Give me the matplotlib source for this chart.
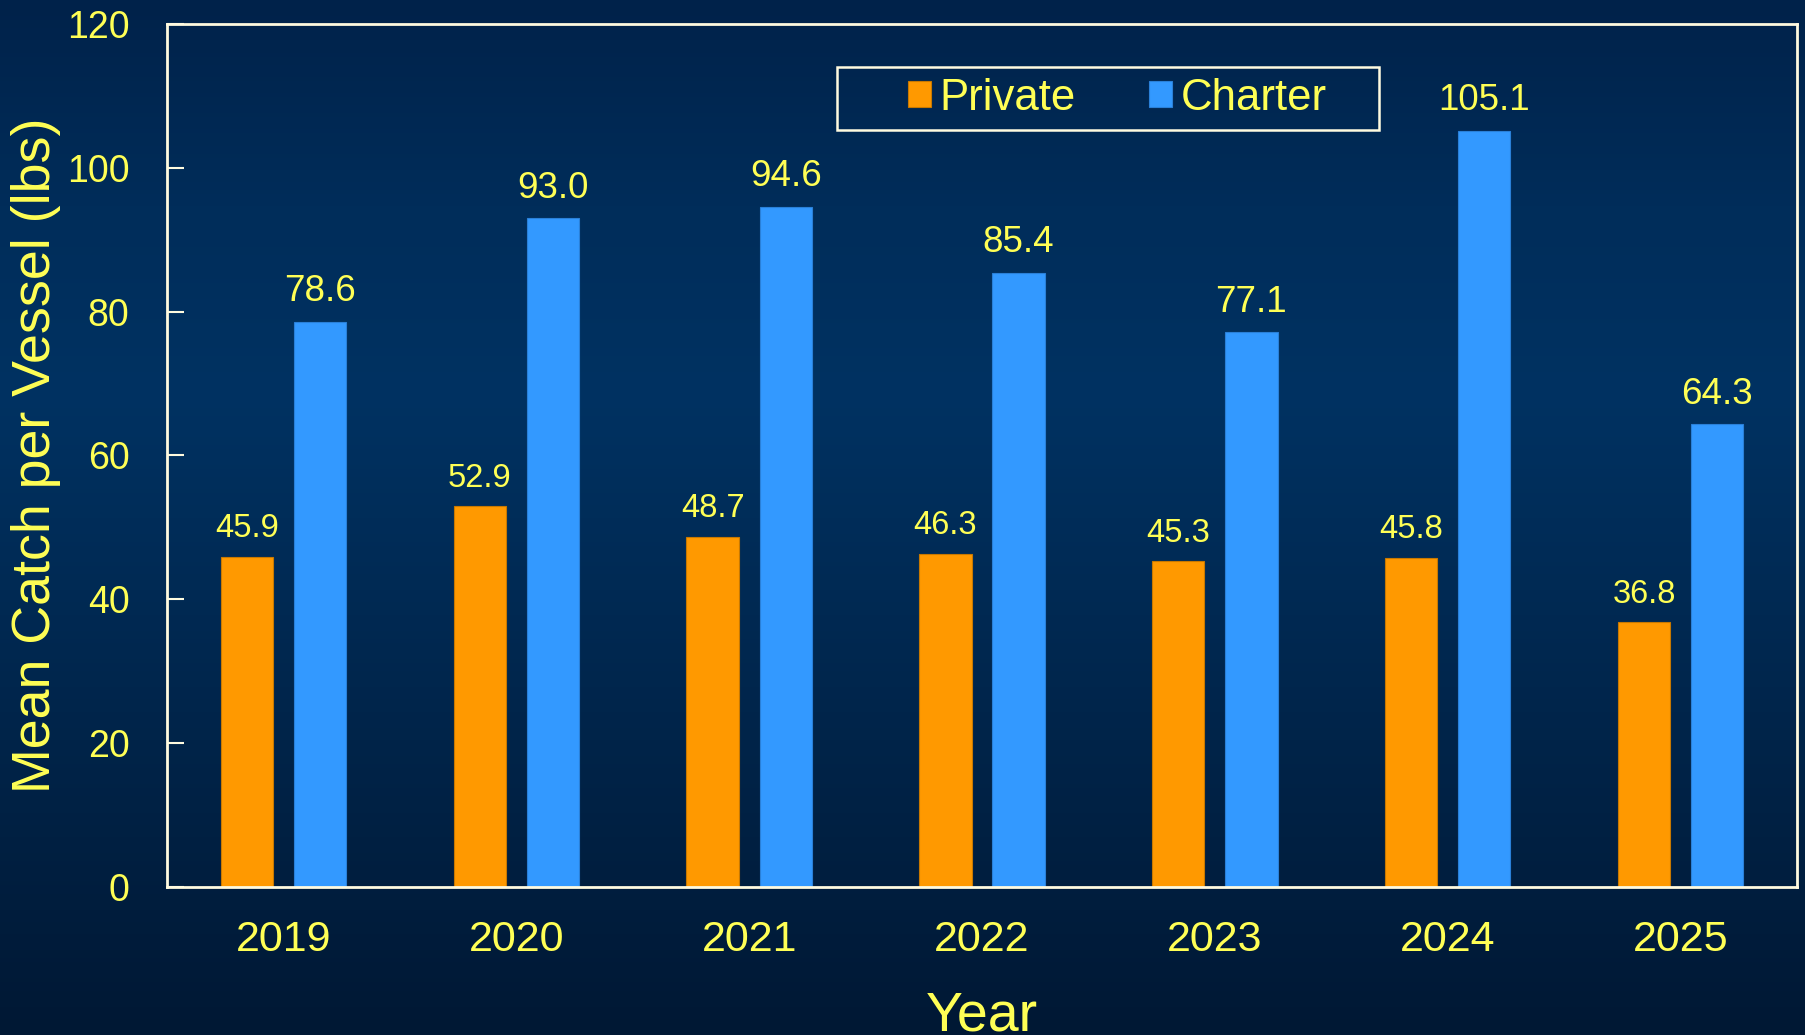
import numpy as np
import matplotlib.pyplot as plt
from matplotlib.colors import LinearSegmentedColormap
from matplotlib.patches import Rectangle

plt.rcParams['font.family'] = ['Liberation Sans', 'DejaVu Sans']

# Data
years = ["2019", "2020", "2021", "2022", "2023", "2024", "2025"]
private = [45.9, 52.9, 48.7, 46.3, 45.3, 45.8, 36.8]
charter = [78.6, 93.0, 94.6, 85.4, 77.1, 105.1, 64.3]

TXT = "#ffff55"
EDGE = "#fffbe0"
ORANGE = "#ff9900"
BLUE = "#3399ff"

fig = plt.figure(figsize=(18.06, 10.35), dpi=100)

# background gradient (vertical)
bg = fig.add_axes([0, 0, 1, 1], zorder=-10)
bg_cmap = LinearSegmentedColormap.from_list(
    "bg", [(0, "#001834"), (0.62, "#003262"), (0.8, "#002d5a"), (1, "#00224a")])
bg.imshow(np.linspace(0, 1, 256).reshape(-1, 1), aspect="auto", cmap=bg_cmap,
          origin="lower", extent=[0, 1, 0, 1])
bg.axis("off")

ax = fig.add_axes([0.0925, 0.143, 0.9025, 0.834])
ax.patch.set_alpha(0)

x = np.arange(len(years))
width = 0.225
off = 0.157
ax.bar(x - off, private, width, color=ORANGE, edgecolor="#c87800", linewidth=0.8, label="Private")
ax.bar(x + off, charter, width, color=BLUE, edgecolor="#2a80d8", linewidth=0.8, label="Charter")

for xi, v in zip(x, private):
    ax.annotate(f"{v:.1f}", (xi - off, v), xytext=(0, 9), textcoords="offset points",
                ha="center", va="bottom", color=TXT, fontsize=23.5)
for xi, v in zip(x, charter):
    ax.annotate(f"{v:.1f}", (xi + off, v), xytext=(0, 9), textcoords="offset points",
                ha="center", va="bottom", color=TXT, fontsize=26.5)

ax.set_xlim(-0.5, len(years) - 0.5)
ax.set_ylim(0, 120)
ax.set_yticks(range(0, 121, 20))
ax.set_xticks(x)
ax.set_xticklabels(years)
ax.tick_params(axis="y", direction="in", length=12, width=1.5, color=EDGE,
               labelcolor=TXT, labelsize=27, pad=27)
ax.tick_params(axis="x", length=0, labelcolor=TXT, labelsize=31, pad=24)

for s in ax.spines.values():
    s.set_color(EDGE)
    s.set_linewidth(2)

ax.set_xlabel("Year", color=TXT, fontsize=40, labelpad=22)
ax.set_ylabel("Mean Catch per Vessel (lbs)", color=TXT, fontsize=38.7)
ax.yaxis.set_label_coords(-0.065, 0.5)

# legend box drawn separately (wide side padding)
ax.add_patch(Rectangle((0.411, 0.877), 0.3325, 0.073, transform=ax.transAxes,
                       facecolor="none", edgecolor=EDGE, linewidth=1.8, zorder=5))
leg = ax.legend(loc="center", bbox_to_anchor=(0.583, 0.914), ncol=2, fontsize=31.5,
                frameon=False, handlelength=0.53, handleheight=0.53,
                handletextpad=0.2, columnspacing=1.66, borderpad=0)
for t in leg.get_texts():
    t.set_color(TXT)

fig.savefig("out.png", dpi=100)
